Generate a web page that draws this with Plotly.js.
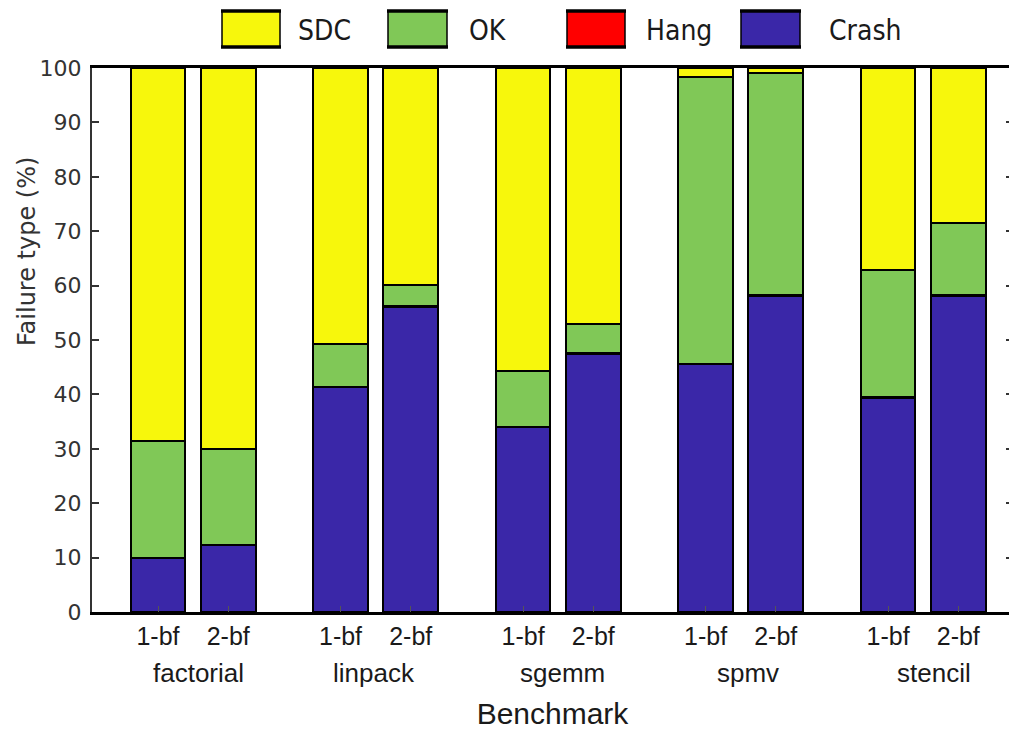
<!DOCTYPE html>
<html>
<head>
<meta charset="utf-8">
<script src="https://cdn.plot.ly/plotly-3.0.1.min.js"></script>
<style>html,body{margin:0;padding:0;overflow:hidden;background:#fff;}#chart{width:1013px;height:731px;}</style>
</head>
<body>
<div id="chart"></div>
<script>
// ---- data ----
const benchmarks = ['factorial', 'linpack', 'sgemm', 'spmv', 'stencil'];
const variants = ['1-bf', '2-bf'];
// values per bar, order: factorial 1-bf, factorial 2-bf, linpack 1-bf, ... stencil 2-bf
const crash = [10.0, 12.3, 41.4, 56.0, 34.1, 47.5, 45.6, 58.0, 39.4, 58.0];
const hang  = [0.0, 0.0, 0.0, 0.2, 0.0, 0.2, 0.0, 0.2, 0.1, 0.3];
const ok    = [21.5, 17.6, 7.8, 4.0, 10.2, 5.3, 52.8, 40.8, 23.4, 13.2];
const sdc   = [68.5, 70.1, 50.8, 39.8, 55.7, 47.0, 1.6, 1.0, 37.1, 28.5];
const yTicks = [0, 10, 20, 30, 40, 50, 60, 70, 80, 90, 100];

// ---- layout helpers ----
const GROUP_STEP = 2.6;
const UNIT_PX = 70.2;
const xs = [], xt = [], groupCenters = [];
benchmarks.forEach((b, g) => {
  variants.forEach((v, s) => { xs.push(g * GROUP_STEP + s); xt.push(v); });
  groupCenters.push(g * GROUP_STEP + 0.5);
});
const groupLabelShift = [5, -2, 4, 7, 11];

const colors = {SDC: '#f7f70c', OK: '#80c857', Hang: '#ff0000', Crash: '#3a27a8'};
const W = 1013, H = 731, ML = 92, MT = 68, MB = 119, MR = 0;
const PW = W - ML - MR, PH = H - MT - MB;
const px = v => (v - ML) / PW;
const py = v => 1 - (v - MT) / PH;

function barTrace(name, vals) {
  return {
    type: 'bar', name: name, x: xs, y: vals, width: 0.78,
    marker: {color: colors[name], line: {color: '#000', width: 2}},
    showlegend: false, hoverinfo: 'name+y'
  };
}
const traces = [barTrace('Crash', crash), barTrace('Hang', hang), barTrace('OK', ok), barTrace('SDC', sdc)];

// custom legend (large swatches)
const legendItems = [
  {name: 'SDC', x0: 222, x1: 280, tx: 296},
  {name: 'OK', x0: 388, x1: 447, tx: 467},
  {name: 'Hang', x0: 567, x1: 625, tx: 644},
  {name: 'Crash', x0: 741, x1: 800, tx: 827}
];
const shapes = [], annotations = [];
legendItems.forEach(it => {
  shapes.push({type: 'rect', xref: 'paper', yref: 'paper', x0: px(it.x0), x1: px(it.x1), y0: py(47), y1: py(11),
    fillcolor: colors[it.name], line: {color: '#000', width: 1.5}});
  shapes.push({type: 'line', xref: 'paper', yref: 'paper', x0: px(it.x0 - 1), x1: px(it.x1 + 1), y0: py(11), y1: py(11), line: {color: '#000', width: 3.5}});
  shapes.push({type: 'line', xref: 'paper', yref: 'paper', x0: px(it.x0 - 1), x1: px(it.x1 + 1), y0: py(47), y1: py(47), line: {color: '#000', width: 3.5}});
  annotations.push({xref: 'paper', yref: 'paper', x: px(it.tx), y: py(30), xanchor: 'left', yanchor: 'middle',
    text: it.name, showarrow: false,
    font: {family: 'Liberation Sans Narrow, DejaVu Sans Condensed, Liberation Sans, sans-serif', size: 28, color: '#1a1a1a'}});
});
benchmarks.forEach((b, g) => {
  annotations.push({xref: 'x', yref: 'paper', x: groupCenters[g], xshift: groupLabelShift[g], y: py(673), xanchor: 'center', yanchor: 'middle',
    text: b, showarrow: false, font: {family: 'Liberation Sans, Arial, sans-serif', size: 26, color: '#1a1a1a'}});
});
annotations.push({xref: 'paper', yref: 'paper', x: px(27), y: py(252), xanchor: 'center', yanchor: 'middle',
  text: 'Failure type (%)', textangle: -90, showarrow: false,
  font: {family: 'DejaVu Sans, sans-serif', size: 24, color: '#333'}});

const layout = {
  width: W, height: H,
  margin: {l: ML, r: MR, t: MT, b: MB},
  paper_bgcolor: '#fff', plot_bgcolor: '#fff',
  barmode: 'stack',
  showlegend: false,
  xaxis: {
    range: [-(158 - ML) / UNIT_PX, (W - 158) / UNIT_PX],
    tickmode: 'array', tickvals: xs, ticktext: xt,
    ticks: 'inside', ticklen: 6, tickwidth: 1, tickcolor: '#555',
    showline: true, linecolor: '#000', linewidth: 3, mirror: true,
    showgrid: false, zeroline: false,
    ticklabelstandoff: 0,
    tickfont: {family: 'Liberation Sans, Arial, sans-serif', size: 25, color: '#1a1a1a'},
    title: {text: 'Benchmark', standoff: 54, font: {family: 'Liberation Sans, Arial, sans-serif', size: 30, color: '#1a1a1a'}}
  },
  yaxis: {
    range: [0, 100],
    tickmode: 'array', tickvals: yTicks,
    ticks: 'inside', ticklen: 7, tickwidth: 2, tickcolor: '#333',
    showline: true, linecolor: '#333', linewidth: 2, mirror: 'ticks',
    showgrid: false, zeroline: false,
    ticklabelstandoff: 4,
    tickfont: {family: 'DejaVu Sans, sans-serif', size: 22, color: '#333'}
  },
  shapes: shapes,
  annotations: annotations
};

Plotly.newPlot('chart', traces, layout, {displayModeBar: false, staticPlot: true});
</script>
</body>
</html>
